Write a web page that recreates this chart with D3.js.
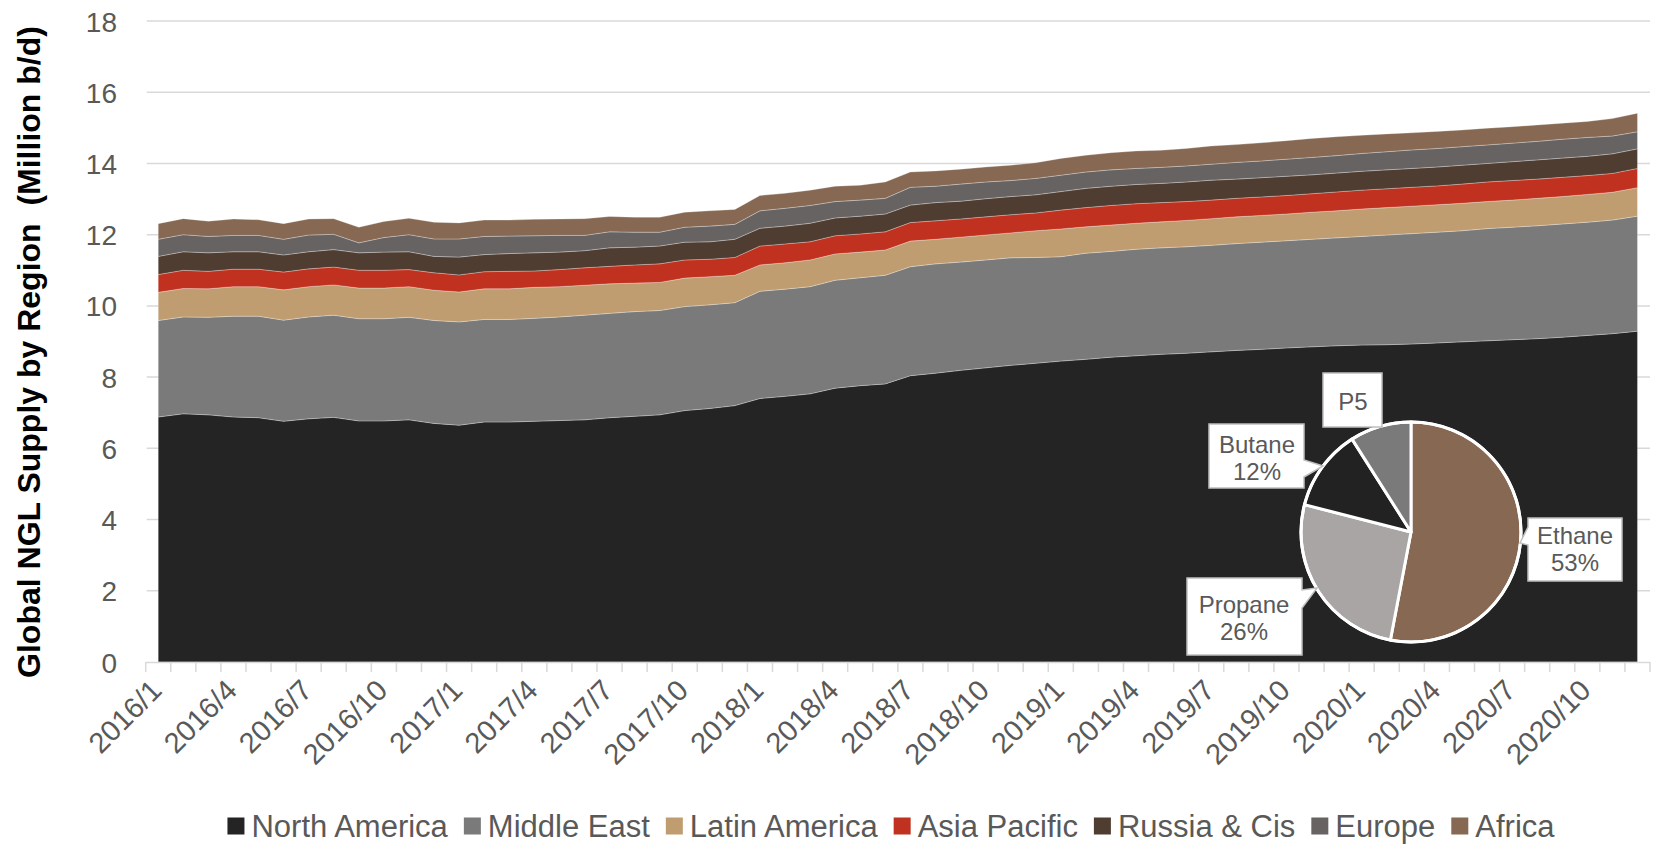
<!DOCTYPE html>
<html>
<head>
<meta charset="utf-8">
<script src="https://cdn.jsdelivr.net/npm/d3@7/dist/d3.min.js"></script>
<style>
  html, body { margin: 0; padding: 0; background: #ffffff; }
  text { font-family: "Liberation Sans", Arial, sans-serif; }
</style>
</head>
<body>
<svg id="chart" width="1653" height="844"></svg>
<script>
// Monthly global NGL supply by region, million b/d
const months = [
  "2016/1","2016/2","2016/3","2016/4","2016/5","2016/6","2016/7","2016/8","2016/9","2016/10","2016/11","2016/12",
  "2017/1","2017/2","2017/3","2017/4","2017/5","2017/6","2017/7","2017/8","2017/9","2017/10","2017/11","2017/12",
  "2018/1","2018/2","2018/3","2018/4","2018/5","2018/6","2018/7","2018/8","2018/9","2018/10","2018/11","2018/12",
  "2019/1","2019/2","2019/3","2019/4","2019/5","2019/6","2019/7","2019/8","2019/9","2019/10","2019/11","2019/12",
  "2020/1","2020/2","2020/3","2020/4","2020/5","2020/6","2020/7","2020/8","2020/9","2020/10","2020/11","2020/12"
];

const northAmerica = [
  6.88,6.97,6.94,6.88,6.86,6.76,6.83,6.87,6.77,6.77,6.80,6.70,
  6.65,6.74,6.74,6.76,6.78,6.80,6.86,6.90,6.94,7.06,7.12,7.20,
  7.40,7.46,7.53,7.69,7.76,7.81,8.04,8.11,8.19,8.26,8.33,8.39,
  8.45,8.50,8.56,8.60,8.64,8.67,8.71,8.75,8.78,8.82,8.85,8.88,
  8.90,8.91,8.93,8.96,8.99,9.02,9.05,9.08,9.12,9.17,9.22,9.29
];
const middleEast = [
  2.71,2.72,2.74,2.83,2.85,2.84,2.86,2.87,2.87,2.87,2.88,2.89,
  2.90,2.88,2.88,2.89,2.91,2.94,2.93,2.94,2.93,2.92,2.91,2.89,
  3.01,3.01,3.01,3.03,3.03,3.05,3.06,3.07,3.04,3.03,3.02,2.97,
  2.93,2.98,2.97,2.99,2.99,2.99,2.99,3.00,3.01,3.01,3.02,3.03,
  3.05,3.08,3.10,3.11,3.12,3.15,3.16,3.17,3.18,3.18,3.19,3.23
];
const latinAmerica = [
  0.79,0.80,0.80,0.83,0.83,0.85,0.85,0.85,0.86,0.86,0.86,0.85,
  0.84,0.86,0.86,0.87,0.85,0.84,0.83,0.80,0.79,0.80,0.79,0.77,
  0.74,0.74,0.75,0.74,0.72,0.71,0.72,0.69,0.70,0.70,0.70,0.75,
  0.78,0.74,0.74,0.73,0.73,0.74,0.75,0.75,0.75,0.75,0.76,0.76,
  0.77,0.77,0.77,0.77,0.77,0.76,0.76,0.77,0.77,0.78,0.78,0.80
];
const asiaPacific = [
  0.50,0.51,0.49,0.49,0.49,0.50,0.50,0.50,0.50,0.50,0.48,0.49,
  0.48,0.48,0.49,0.46,0.48,0.49,0.49,0.51,0.52,0.51,0.49,0.50,
  0.53,0.53,0.51,0.51,0.51,0.51,0.52,0.52,0.51,0.51,0.51,0.50,
  0.53,0.54,0.55,0.55,0.54,0.53,0.52,0.52,0.52,0.52,0.52,0.53,
  0.53,0.53,0.53,0.53,0.54,0.55,0.55,0.54,0.54,0.53,0.53,0.54
];
const russiaCis = [
  0.51,0.52,0.52,0.49,0.49,0.48,0.48,0.49,0.49,0.51,0.50,0.46,
  0.50,0.48,0.50,0.51,0.49,0.48,0.52,0.50,0.50,0.50,0.49,0.51,
  0.50,0.50,0.52,0.50,0.50,0.50,0.49,0.51,0.50,0.51,0.51,0.51,
  0.52,0.54,0.54,0.54,0.54,0.55,0.56,0.54,0.54,0.54,0.53,0.53,
  0.53,0.53,0.53,0.53,0.53,0.52,0.53,0.54,0.54,0.54,0.55,0.55
];
const europe = [
  0.48,0.48,0.46,0.46,0.46,0.44,0.47,0.43,0.28,0.41,0.48,0.49,
  0.51,0.51,0.49,0.48,0.47,0.43,0.45,0.42,0.39,0.42,0.44,0.42,
  0.49,0.50,0.50,0.46,0.45,0.44,0.50,0.46,0.48,0.47,0.45,0.46,
  0.46,0.46,0.46,0.45,0.45,0.45,0.45,0.47,0.47,0.48,0.49,0.49,
  0.50,0.51,0.52,0.52,0.52,0.52,0.52,0.52,0.53,0.53,0.50,0.48
];
const africa = [
  0.44,0.45,0.43,0.46,0.44,0.44,0.45,0.44,0.44,0.45,0.46,0.47,
  0.45,0.46,0.45,0.46,0.46,0.47,0.43,0.42,0.42,0.42,0.43,0.42,
  0.43,0.42,0.43,0.43,0.42,0.46,0.43,0.43,0.42,0.42,0.43,0.44,
  0.47,0.47,0.48,0.49,0.48,0.49,0.51,0.50,0.51,0.52,0.53,0.53,
  0.51,0.50,0.48,0.48,0.47,0.47,0.46,0.46,0.45,0.45,0.49,0.52
];

const regionNames  = ["North America","Middle East","Latin America","Asia Pacific","Russia & Cis","Europe","Africa"];
const regionValues = [northAmerica, middleEast, latinAmerica, asiaPacific, russiaCis, europe, africa];
const regionColors = ["#242424","#7a7a7a","#c09d71","#c0321f","#4f3d31","#676363","#866853"];

const yTicks = [0,2,4,6,8,10,12,14,16,18];
const xLabelEvery = 3;

// NGL composition inset
const productNames  = ["Ethane","Propane","Butane","P5"];
const productShares = [53, 26, 12, 9];
const productLabels = ["Ethane\n53%","Propane\n26%","Butane\n12%","P5"];
const productColors = ["#866853","#a8a5a4","#222222","#7a7a7a"];

// ---------------------------------------------------------------
const svg = d3.select("#chart");
const axisLeft = 145.7, axisRight = 1650, yBottom = 662, yTop = 21;

const rows = months.map((m, i) => {
  const r = { month: m };
  regionNames.forEach((n, k) => r[n] = regionValues[k][i]);
  return r;
});

const x = d3.scalePoint().domain(months).range([axisLeft, axisRight]).padding(0.5);
const step = x.step();
const y = d3.scaleLinear().domain([0, 18]).range([yBottom, yTop]);

// gridlines
const grid = svg.append("g").attr("class", "grid");
grid.selectAll("line").data(yTicks.filter(t => t > 0)).join("line")
  .attr("x1", axisLeft + 1).attr("x2", axisRight)
  .attr("y1", d => y(d)).attr("y2", d => y(d))
  .attr("stroke", "#d9d9d9").attr("stroke-width", 1.5);

// stacked areas
const stack = d3.stack().keys(regionNames);
const series = stack(rows);
const area = d3.area()
  .x(d => x(d.data.month))
  .y0(d => y(d[0]))
  .y1(d => y(d[1]));

svg.append("g").attr("class", "areas")
  .selectAll("path").data(series).join("path")
  .attr("d", area)
  .attr("fill", (d, i) => regionColors[i])
  .attr("stroke", "rgba(255,255,255,0.35)")
  .attr("stroke-width", 0.8);

// y axis labels
const yAxis = d3.axisLeft(y).tickValues(yTicks).tickSize(0).tickPadding(0);
const yg = svg.append("g").attr("transform", `translate(117,0)`).call(yAxis);
yg.select(".domain").remove();
yg.selectAll("text")
  .attr("font-size", 28).attr("fill", "#595959")
  .attr("font-family", '"Liberation Sans", Arial, sans-serif')
  .attr("dy", "0.36em");

// x axis baseline and category tick marks
const xg = svg.append("g").attr("class", "x-axis");
xg.append("line")
  .attr("x1", axisLeft).attr("x2", axisRight)
  .attr("y1", yBottom + 0.5).attr("y2", yBottom + 0.5)
  .attr("stroke", "#d9d9d9").attr("stroke-width", 1.5);
const boundaries = months.map(m => x(m) - step / 2).concat([x(months[months.length - 1]) + step / 2]);
xg.selectAll("line.tick").data(boundaries).join("line")
  .attr("class", "tick")
  .attr("x1", d => d).attr("x2", d => d)
  .attr("y1", yBottom).attr("y2", yBottom + 10)
  .attr("stroke", "#d9d9d9").attr("stroke-width", 1.5);

xg.selectAll("text").data(months.filter((m, i) => i % xLabelEvery === 0)).join("text")
  .attr("transform", d => `translate(${x(d) - 2},${yBottom + 23}) rotate(-45)`)
  .attr("text-anchor", "end")
  .attr("dy", "0.35em")
  .attr("font-size", 29).attr("fill", "#595959")
  .text(d => d);

// y axis title
svg.append("text")
  .attr("transform", `translate(40,${(28 + 676) / 2}) rotate(-90)`)
  .attr("text-anchor", "middle")
  .style("white-space", "pre")
  .attr("font-size", 32).attr("font-weight", "bold").attr("fill", "#000")
  .text("Global NGL Supply by Region  (Million b/d)");

// legend
const legend = svg.append("g").attr("class", "legend");
const sq = 17, sqGap = 7, itemGap = 16, legendY = 826;
let cursor = 0;
regionNames.forEach((n, i) => {
  const g = legend.append("g");
  g.append("rect").attr("x", 0).attr("y", -sq / 2).attr("width", sq).attr("height", sq).attr("fill", regionColors[i]);
  const t = g.append("text").attr("x", sq + sqGap).attr("y", 0).attr("dy", "0.35em")
    .attr("font-size", 31).attr("fill", "#595959").text(n);
  const w = sq + sqGap + t.node().getComputedTextLength();
  g.attr("transform", `translate(${cursor},${legendY})`);
  cursor += w + itemGap;
});
const legendWidth = cursor - itemGap;
legend.attr("transform", `translate(${891 - legendWidth / 2},0)`);

// composition pie inset
const pieCx = 1411, pieCy = 532, pieR = 110;
const pie = d3.pie().sort(null).value(d => d);
const arc = d3.arc().innerRadius(0).outerRadius(pieR);
const pg = svg.append("g").attr("transform", `translate(${pieCx},${pieCy})`);
pg.selectAll("path").data(pie(productShares)).join("path")
  .attr("d", arc)
  .attr("fill", (d, i) => productColors[i])
  .attr("stroke", "#ffffff").attr("stroke-width", 3).attr("stroke-linejoin", "round");
pg.append("circle").attr("r", pieR).attr("fill", "none").attr("stroke", "#ffffff").attr("stroke-width", 3);

// callout boxes: rectangle with a pointer wedge on one side
const callouts = [
  { x: 1528, y: 518, w: 94,  h: 63, side: "left",  b0: 527, b1: 545, ax: 1520, ay: 543, cx: 1575, base: 544 },
  { x: 1187, y: 578, w: 115, h: 77, side: "right", b0: 590, b1: 608, ax: 1317, ay: 588, cx: 1244, base: 613 },
  { x: 1209, y: 424, w: 95,  h: 64, side: "right", b0: 460, b1: 477, ax: 1323, ay: 466, cx: 1257, base: 453 },
  { x: 1323, y: 373, w: 59,  h: 54, side: "none",  cx: 1353, base: 410 }
];
function calloutPath(c) {
  const r = c.x + c.w, b = c.y + c.h;
  if (c.side === "right")
    return `M${c.x},${c.y}H${r}V${c.b0}L${c.ax},${c.ay}L${r},${c.b1}V${b}H${c.x}Z`;
  if (c.side === "left")
    return `M${c.x},${c.y}H${r}V${b}H${c.x}V${c.b1}L${c.ax},${c.ay}L${c.x},${c.b0}Z`;
  return `M${c.x},${c.y}H${r}V${b}H${c.x}Z`;
}
const lg = svg.append("g").attr("class", "pie-labels");
productNames.forEach((name, i) => {
  const c = callouts[i];
  lg.append("path").attr("d", calloutPath(c))
    .attr("fill", "#ffffff").attr("stroke", "#bfbfbf").attr("stroke-width", 1.5);
  const t = lg.append("text").attr("text-anchor", "middle").attr("font-size", 24).attr("fill", "#595959");
  productLabels[i].split("\n").forEach((line, j) => {
    t.append("tspan").attr("x", c.cx).attr("y", c.base + j * 27).text(line);
  });
});
</script>
</body>
</html>
